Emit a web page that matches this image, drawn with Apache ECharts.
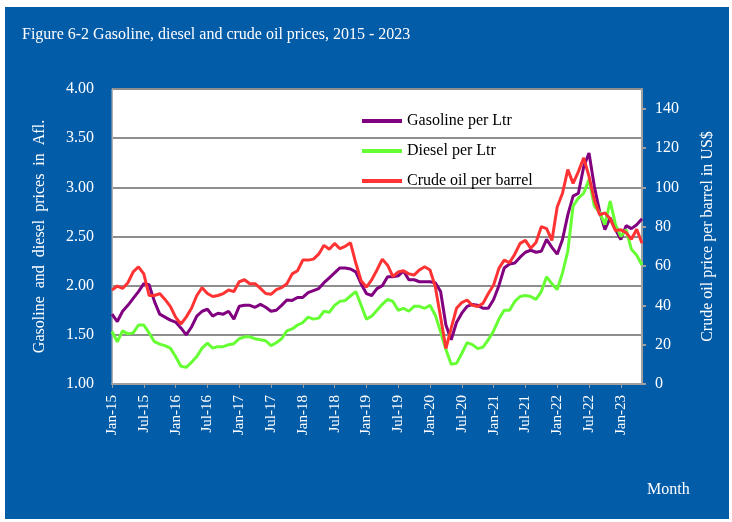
<!DOCTYPE html>
<html>
<head>
<meta charset="utf-8">
<script src="https://cdn.jsdelivr.net/npm/echarts@6/dist/echarts.min.js"></script>
<style>
  html, body { margin: 0; padding: 0; background: #ffffff; }
  #chart { position: absolute; left: 5px; top: 7px; width: 724px; height: 512px; background: #035ca8; }
</style>
</head>
<body>
<div id="chart"></div>
<script>
// monthly series, Jan 2015 - May 2023
const monthNames = ['Jan', 'Feb', 'Mar', 'Apr', 'May', 'Jun', 'Jul', 'Aug', 'Sep', 'Oct', 'Nov', 'Dec'];
const years = ['15', '16', '17', '18', '19', '20', '21', '22', '23'];
const months = [];
years.forEach(y => monthNames.forEach(m => months.push(m + '-' + y)));
months.length = 101;

const gasoline = [
  1.71, 1.635, 1.74, 1.80, 1.87, 1.94, 2.02, 2.01, 1.84, 1.71, 1.68, 1.65,
  1.63, 1.57, 1.50, 1.58, 1.69, 1.74, 1.76, 1.69, 1.72, 1.71, 1.74, 1.66,
  1.79, 1.80, 1.80, 1.78, 1.81, 1.78, 1.74, 1.75, 1.80, 1.855, 1.85, 1.88,
  1.88, 1.93, 1.95, 1.97, 2.03, 2.08, 2.13, 2.18, 2.18, 2.17, 2.14, 2.02,
  1.92, 1.90, 1.97, 2.00, 2.09, 2.09, 2.10, 2.15, 2.06, 2.06, 2.04, 2.04,
  2.04, 2.03, 1.94, 1.60, 1.45, 1.625, 1.72, 1.79, 1.81, 1.80, 1.77, 1.77,
  1.86, 2.00, 2.18, 2.22, 2.23, 2.29, 2.34, 2.36, 2.34, 2.35, 2.47, 2.39,
  2.32, 2.47, 2.72, 2.91, 2.94, 3.21, 3.35, 3.01, 2.755, 2.57, 2.69, 2.57,
  2.47, 2.61, 2.58, 2.62, 2.68
];
const diesel = [
  1.534, 1.43, 1.54, 1.51, 1.52, 1.60, 1.60, 1.52, 1.43, 1.405, 1.39, 1.365,
  1.28, 1.18, 1.17, 1.22, 1.28, 1.365, 1.415, 1.365, 1.38, 1.38, 1.40, 1.41,
  1.46, 1.48, 1.48, 1.46, 1.45, 1.44, 1.39, 1.42, 1.46, 1.54, 1.56, 1.60,
  1.625, 1.68, 1.66, 1.67, 1.74, 1.73, 1.80, 1.84, 1.85, 1.895, 1.94, 1.80,
  1.66, 1.69, 1.75, 1.81, 1.86, 1.84, 1.75, 1.77, 1.74, 1.79, 1.79, 1.77,
  1.80, 1.70, 1.53, 1.35, 1.20, 1.21, 1.31, 1.42, 1.40, 1.36, 1.375, 1.45,
  1.54, 1.66, 1.75, 1.75, 1.84, 1.89, 1.90, 1.89, 1.86, 1.94, 2.09, 2.02,
  1.96, 2.13, 2.35, 2.81, 2.89, 2.94, 3.08, 2.81, 2.745, 2.62, 2.86, 2.62,
  2.50, 2.57, 2.37, 2.31, 2.21
];
const crude = [
  47.8, 49.8, 48.6, 51.5, 57, 59.6, 56, 45, 45, 46, 43, 39.5,
  34, 30.5, 34, 38.5, 45, 49, 46, 44.5, 45, 46, 47.8, 47,
  52, 53, 51, 51, 48.6, 46, 45.6, 48, 49, 51, 56, 57.6,
  63, 63, 63.5, 66, 70.5, 68.5, 71.5, 68.8, 70, 71.8, 61.5, 52.5,
  49.3, 53, 58, 63.5, 60.4, 54.6, 57, 57.6, 56, 55.4, 58, 59.6,
  58, 49.5, 34, 18, 28.4, 38.5, 41.4, 42.7, 40, 39.4, 41, 46,
  50.3, 58.8, 63, 61.7, 66, 71.5, 73, 69, 72, 80, 79, 73,
  90, 97, 109, 102, 108, 115, 105.6, 93.7, 86, 87, 84, 78,
  78.4, 77, 73.6, 78.7, 71.6
];

const serif = 'Liberation Serif';
const chart = echarts.init(document.getElementById('chart'));

chart.setOption({
  backgroundColor: 'transparent',
  textStyle: { fontFamily: serif },
  title: {
    text: 'Figure 6-2 Gasoline, diesel and crude oil prices, 2015 - 2023',
    left: 12,
    top: 15,
    textStyle: { color: '#fff', fontSize: 16, fontWeight: 'normal', fontFamily: serif }
  },
  legend: {
    orient: 'vertical',
    left: 352,
    top: 101,
    itemWidth: 40,
    itemHeight: 4,
    itemGap: 14,
    icon: 'rect',
    textStyle: { color: '#000', fontSize: 16, fontFamily: serif },
    data: ['Gasoline per Ltr', 'Diesel per Ltr', 'Crude oil per barrel']
  },
  graphic: [{
    type: 'text',
    left: 642,
    top: 475,
    style: { text: 'Month', fill: '#fff', fontSize: 16, fontFamily: serif }
  }],
  grid: {
    left: 107,
    top: 82,
    width: 530,
    height: 295,
    show: true,
    backgroundColor: '#fff',
    borderColor: '#b0b0b0',
    borderWidth: 1
  },
  xAxis: {
    type: 'category',
    data: months,
    boundaryGap: false,
    axisLine: { lineStyle: { color: '#a0a0a0', width: 2 } },
    axisTick: { interval: 5, length: 4, lineStyle: { color: '#a0a0a0' } },
    axisLabel: {
      interval: 5,
      rotate: 90,
      margin: 11,
      color: '#fff',
      fontSize: 15,
      fontFamily: serif
    }
  },
  yAxis: [{
    type: 'value',
    min: 1,
    max: 4,
    interval: 0.5,
    name: 'Gasoline  and  diesel  prices  in  Afl.',
    nameLocation: 'middle',
    nameRotate: 90,
    nameGap: 64,
    nameTextStyle: { color: '#fff', fontSize: 16, fontFamily: serif },
    axisLine: { show: true, lineStyle: { color: '#b0b0b0', width: 1 } },
    axisTick: { show: false },
    axisLabel: {
      color: '#fff',
      fontSize: 16,
      margin: 18,
      fontFamily: serif,
      formatter: v => v.toFixed(2)
    },
    splitLine: { lineStyle: { color: '#8e8e8e', width: 2 } }
  }, {
    type: 'value',
    min: 0,
    max: 150,
    interval: 20,
    position: 'right',
    name: 'Crude oil price per barrel in US$',
    nameLocation: 'middle',
    nameRotate: 90,
    nameGap: 58,
    nameTextStyle: { color: '#fff', fontSize: 16, fontFamily: serif },
    axisLine: { show: true, lineStyle: { color: '#a0a0a0', width: 2 } },
    axisTick: { show: true, length: 4, lineStyle: { color: '#a0a0a0', width: 2 } },
    axisLabel: {
      color: '#fff',
      fontSize: 16,
      margin: 13,
      fontFamily: serif,
      showMaxLabel: false
    },
    splitLine: { show: false }
  }],
  series: [{
    name: 'Gasoline per Ltr',
    type: 'line',
    data: gasoline,
    showSymbol: false,
    itemStyle: { color: '#800080' },
    lineStyle: { color: '#800080', width: 3 }
  }, {
    name: 'Diesel per Ltr',
    type: 'line',
    data: diesel,
    showSymbol: false,
    itemStyle: { color: '#66ff33' },
    lineStyle: { color: '#66ff33', width: 3 }
  }, {
    name: 'Crude oil per barrel',
    type: 'line',
    yAxisIndex: 1,
    data: crude,
    showSymbol: false,
    itemStyle: { color: '#ff3333' },
    lineStyle: { color: '#ff3333', width: 3 }
  }]
});
</script>
</body>
</html>
